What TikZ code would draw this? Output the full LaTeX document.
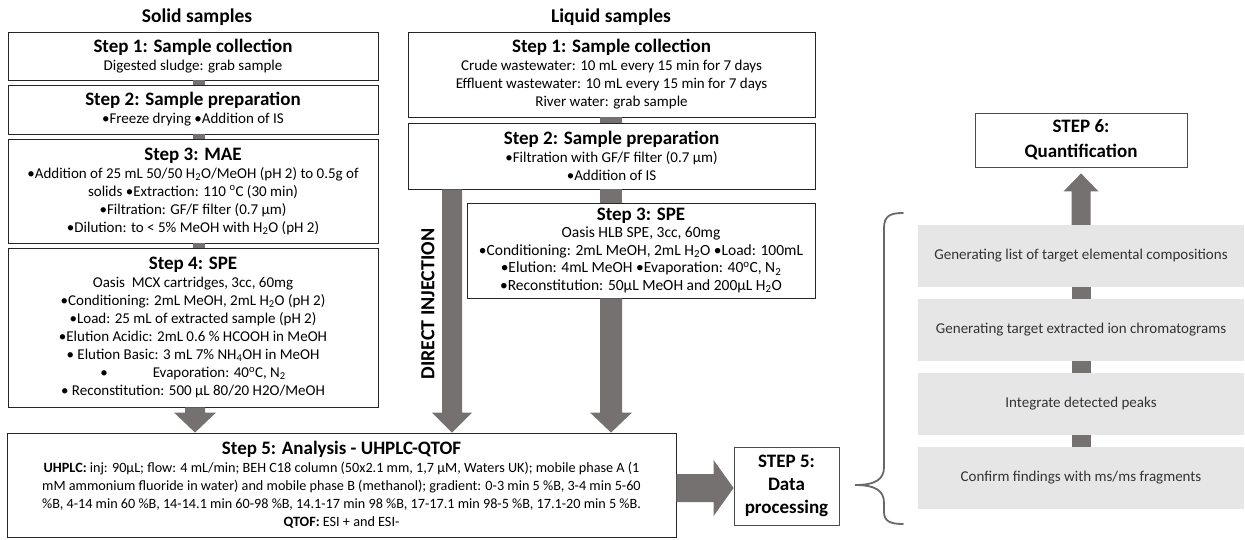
\documentclass[tikz,border=0pt]{standalone}
\usepackage{fontspec}
\setmainfont{Carlito}
\usetikzlibrary{calc}

\definecolor{arrowgray}{RGB}{118,113,113}
\definecolor{panelgray}{RGB}{231,230,230}
\definecolor{bracegray}{RGB}{105,105,105}

% headings and chemistry helpers
\newcommand\hd[1]{{\fontsize{19}{23}\selectfont\bfseries #1}}
\newcommand\sub[1]{\textsubscript{#1}}
\newcommand\degc{\textsuperscript{o}C}

% block arrows: #1 start, #2 tip, #3 half shaft, #4 half head, #5 head length
\newcommand\downblock[5]{%
  \fill[blockfill] ($(#1)+(-#3,0)$) -- ($(#1)+(#3,0)$) -- ($(#2)+(#3,-#5)$)
    -- ($(#2)+(#4,-#5)$) -- (#2) -- ($(#2)+(-#4,-#5)$) -- ($(#2)+(-#3,-#5)$) -- cycle;}
\newcommand\upblock[5]{%
  \fill[blockfill] ($(#1)+(-#3,0)$) -- ($(#1)+(#3,0)$) -- ($(#2)+(#3,#5)$)
    -- ($(#2)+(#4,#5)$) -- (#2) -- ($(#2)+(-#4,#5)$) -- ($(#2)+(-#3,#5)$) -- cycle;}
\newcommand\rightblock[5]{%
  \fill[blockfill] ($(#1)+(0,-#3)$) -- ($(#2)+(-#5,-#3)$) -- ($(#2)+(-#5,-#4)$)
    -- (#2) -- ($(#2)+(-#5,#4)$) -- ($(#2)+(-#5,#3)$) -- ($(#1)+(0,#3)$) -- cycle;}

\begin{document}
\begin{tikzpicture}[x=1pt,y=-1pt,
  stepbox/.style={draw=black!85, line width=0.9pt, fill=white, inner sep=0pt,
    align=center, font=\fontsize{15}{18}\selectfont},
  smallbox/.style={draw=black!70, line width=0.8pt, fill=white, inner sep=0pt,
    align=center, font=\fontsize{19}{23}\selectfont\bfseries},
  grayrow/.style={fill=panelgray, minimum width=326pt, minimum height=62pt,
    inner sep=0pt, font=\fontsize{15}{18}\selectfont, text=black!80},
  colhead/.style={font=\fontsize{19.5}{22}\selectfont\bfseries},
  joint/.style={fill=arrowgray},
  blockfill/.style={fill=arrowgray},
  brace/.style={draw=bracegray, line width=1.8pt, line cap=round}]
\useasboundingbox (0,0) rectangle (1245,539);

% column headings
\node[colhead] (solidhead) at (197,17) {Solid samples};
\node[colhead] (liquidhead) at (611,17) {Liquid samples};

% solid samples
\node[stepbox, minimum width=370pt, minimum height=48pt] (s1) at (193,56)
  {\hd{Step 1: Sample collection}\\Digested sludge: grab sample};
\node[stepbox, minimum width=370pt, minimum height=49pt] (s2) at (193,109.5)
  {\hd{Step 2: Sample preparation}\\•Freeze drying •Addition of IS};
\node[stepbox, minimum width=370pt, minimum height=104pt] (s3) at (193,191)
  {\hd{Step 3: MAE}\\•Addition of 25 mL 50/50 H\sub{2}O/MeOH (pH 2) to 0.5g of\\
   solids •Extraction: 110 \degc{} (30 min)\\•Filtration: GF/F filter (0.7 µm)\\
   •Dilution: to < 5\% MeOH with H\sub{2}O (pH 2)};
\node[stepbox, minimum width=370pt, minimum height=159pt] (s4) at (193,327.5)
  {\hd{Step 4: SPE}\\Oasis\ \ MCX cartridges, 3cc, 60mg\\
   •Conditioning: 2mL MeOH, 2mL H\sub{2}O (pH 2)\\
   •Load: 25 mL of extracted sample (pH 2)\\
   •Elution Acidic: 2mL 0.6 \% HCOOH in MeOH\\
   • Elution Basic: 3 mL 7\% NH\sub{4}OH in MeOH\\
   •\hspace{3em}Evaporation: 40\degc, N\sub{2}\\
   • Reconstitution: 500 µL 80/20 H2O/MeOH};

% liquid samples
\node[stepbox, minimum width=407pt, minimum height=85pt] (l1) at (611.5,74.5)
  {\hd{Step 1: Sample collection}\\Crude wastewater: 10 mL every 15 min for 7 days\\
   Effluent wastewater: 10 mL every 15 min for 7 days\\River water: grab sample};
\node[stepbox, minimum width=407pt, minimum height=66pt] (l2) at (611.5,156)
  {\hd{Step 2: Sample preparation}\\•Filtration with GF/F filter (0.7 µm)\\•Addition of IS};
\node[stepbox, minimum width=348pt, minimum height=95pt,
  font=\fontsize{15.5}{17.5}\selectfont] (l3) at (641,250.5)
  {\hd{Step 3: SPE}\\Oasis HLB SPE, 3cc, 60mg\\
   •Conditioning: 2mL MeOH, 2mL H\sub{2}O •Load: 100mL\\
   •Elution: 4mL MeOH •Evaporation: 40\degc, N\sub{2}\\
   •Reconstitution: 50µL MeOH and 200µL H\sub{2}O};

% analysis
\node[stepbox, minimum width=669pt, minimum height=104pt,
  font=\fontsize{14.2}{18}\selectfont] (st5) at (341.5,485)
  {\hd{Step 5: Analysis - UHPLC-QTOF}\\
   \textbf{UHPLC:} inj: 90µL; flow: 4 mL/min; BEH C18 column (50x2.1 mm, 1,7 µM, Waters UK); mobile phase A (1\\
   mM ammonium fluoride in water) and mobile phase B (methanol); gradient: 0-3 min 5 \%B, 3-4 min 5-60\\
   \%B, 4-14 min 60 \%B, 14-14.1 min 60-98 \%B, 14.1-17 min 98 \%B, 17-17.1 min 98-5 \%B, 17.1-20 min 5 \%B.\\
   \textbf{QTOF:} ESI + and ESI-};

\node[smallbox, minimum width=105pt, minimum height=78pt] (dp) at (786.5,486)
  {STEP 5:\\Data\\processing};
\node[smallbox, minimum width=212pt, minimum height=54pt, font=\fontsize{19}{25}\selectfont\bfseries]
  (st6) at (1081,140) {STEP 6:\\Quantification};

% data processing sub-steps
\node[grayrow] (g1) at (1081,256) {Generating list of target elemental compositions};
\node[grayrow] (g2) at (1081,330) {Generating target extracted ion chromatograms};
\node[grayrow] (g3) at (1081,404) {Integrate detected peaks};
\node[grayrow] (g4) at (1081,478) {Confirm findings with ms/ms fragments};

% short joints between stacked boxes
\coordinate (jx1) at (193,0);  \coordinate (jx2) at (205,0);
\coordinate (jl1) at (600,0);  \coordinate (jl2) at (622,0);
\coordinate (jg1) at (1071.5,0); \coordinate (jg2) at (1090.5,0);
\fill[joint] (s1.south -| jx1) rectangle (s2.north -| jx2);
\fill[joint] (s2.south -| jx1) rectangle (s3.north -| jx2);
\fill[joint] (s3.south -| jx1) rectangle (s4.north -| jx2);
\fill[joint] (l1.south -| jl1) rectangle (l2.north -| jl2);
\fill[joint] (l2.south -| jl1) rectangle (l3.north -| jl2);
\fill[joint] (g1.south -| jg1) rectangle (g2.north -| jg2);
\fill[joint] (g2.south -| jg1) rectangle (g3.north -| jg2);
\fill[joint] (g3.south -| jg1) rectangle (g4.north -| jg2);

% big arrows into the analysis box
\coordinate (ax1) at (195,0);
\coordinate (ax2) at (452,0);
\coordinate (ax3) at (611,0);
\coordinate (a1s) at (s4.south -| ax1);  \coordinate (a1e) at (st5.north -| ax1);
\coordinate (a2s) at (l2.south -| ax2);  \coordinate (a2e) at (st5.north -| ax2);
\coordinate (a3s) at (l3.south -| ax3);  \coordinate (a3e) at (st5.north -| ax3);
\downblock{a1s}{a1e}{10}{21}{20}
\downblock{a2s}{a2e}{10}{20}{20}
\downblock{a3s}{a3e}{11}{21}{20}

\node[font=\fontsize{20}{22}\selectfont\bfseries, rotate=90] (direct) at (428,304) {DIRECT INJECTION};

% analysis to data processing
\coordinate (ry) at (0,488);
\coordinate (a4s) at (st5.east |- ry); \coordinate (a4e) at (dp.west |- ry);
\rightblock{a4s}{a4e}{14}{28}{20}

% sub-steps up to quantification
\coordinate (a5s) at (g1.north);
\coordinate (a5e) at ($(st6.south)+(0,6)$);
\upblock{a5s}{a5e}{9.5}{17.5}{18}

% brace gathering the sub-steps
\draw[brace] (903,213) .. controls (890,213) and (884,216) .. (884,228)
  -- (884,467) .. controls (884,479) and (876,485) .. (855,485)
  .. controls (876,485) and (884,491) .. (884,503)
  -- (884,512) .. controls (884,521) and (890,524) .. (903,524);
\end{tikzpicture}
\end{document}
